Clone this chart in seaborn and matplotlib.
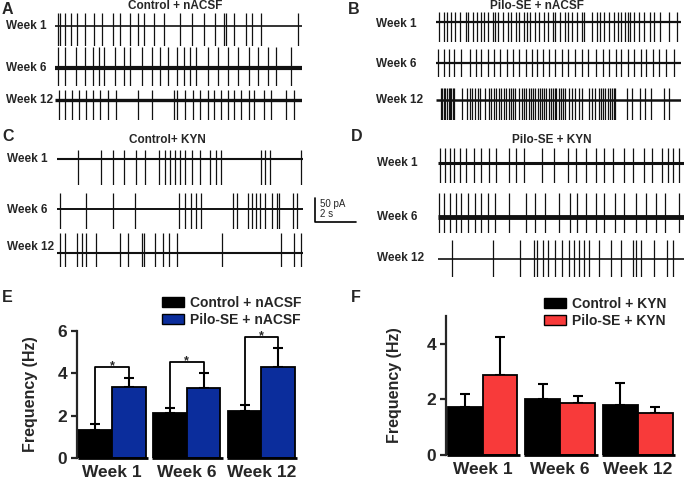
import numpy as np
import pandas as pd
import matplotlib
matplotlib.use("Agg")
import matplotlib.pyplot as plt
import seaborn as sns
from matplotlib.patches import Patch

# ---------------- data ----------------
# spike times (s) of the example recordings, 12 s sweeps
a_wk1 = [0.16, 0.24, 0.49, 0.76, 1.09, 1.46, 1.90, 2.27, 2.84, 3.16, 3.62, 4.01, 4.33, 4.82, 5.30,
         6.08, 6.65, 7.25, 7.78, 8.22, 8.32, 8.68, 9.29, 9.57, 10.01, 11.81]
a_wk6 = [0.16, 0.49, 1.02, 1.46, 1.87, 2.14, 2.38, 2.92, 3.36, 3.65, 4.22, 4.70, 5.08, 5.51, 5.92,
         6.28, 6.54, 6.86, 7.41, 7.90, 8.39, 8.87, 9.41, 9.85, 10.35, 10.75, 11.48]
a_wk12 = [0.21, 0.49, 0.81, 1.18, 1.51, 1.87, 2.19, 2.59, 2.97, 4.01, 4.70, 5.79, 5.95, 6.33, 6.70,
          7.06, 7.41, 7.74, 8.06, 8.39, 8.68, 9.04, 9.41, 9.68, 10.14, 10.50, 11.24, 11.63]
b_wk1 = [0.16, 0.38, 0.52, 0.73, 0.95, 1.19, 1.47, 1.58, 1.80, 2.01, 2.20, 2.37, 2.56, 2.78, 2.91,
         3.02, 3.27, 3.51, 3.67, 3.92, 4.08, 4.33, 4.46, 4.60, 4.85, 5.06, 5.27, 5.50, 5.71, 5.85,
         6.09, 6.32, 6.48, 6.65, 6.91, 7.13, 7.27, 7.62, 7.87, 8.05, 8.25, 8.49, 8.73, 8.90, 9.06,
         9.26, 9.39, 9.52, 9.71, 9.96, 10.17, 10.50, 10.69, 10.99, 11.43, 11.80]
b_wk6 = [0.11, 0.41, 0.65, 0.90, 1.22, 1.68, 1.96, 2.20, 2.56, 2.82, 3.15, 3.48, 3.76, 4.05, 4.41,
         4.69, 4.95, 5.22, 5.55, 5.83, 6.16, 6.48, 6.81, 7.13, 7.46, 7.84, 8.16, 8.49, 8.82, 9.06,
         9.42, 9.71, 10.04, 10.29, 10.61, 10.94, 11.27, 11.67]
b_wk12 = [0.24, 0.29, 0.38, 0.46, 0.54, 0.62, 0.67, 0.73, 0.82, 0.90, 1.27, 1.52, 1.65, 1.76, 1.93,
          2.04, 2.17, 2.38, 2.58, 2.69, 2.86, 2.96, 3.07, 3.18, 3.31, 3.44, 3.56, 3.67, 3.77, 3.89,
          4.05, 4.21, 4.33, 4.42, 4.54, 4.65, 4.75, 4.87, 4.98, 5.08, 5.19, 5.31, 5.40, 5.52, 5.63,
          5.73, 5.81, 5.89, 6.01, 6.12, 6.22, 6.33, 6.50, 6.66, 6.82, 6.99, 7.15, 7.48, 7.64, 7.80,
          7.97, 8.08, 8.18, 8.29, 8.41, 8.51, 8.62, 8.70, 8.78, 9.36, 9.60, 10.01, 10.25, 10.53,
          11.15, 11.40]
c_wk1 = [1.02, 2.16, 2.71, 3.28, 3.84, 4.30, 4.98, 5.27, 5.51, 5.76, 6.00, 6.24, 6.60, 6.97, 7.46,
         7.75, 7.99, 9.97, 10.17, 10.38, 11.92]
c_wk6 = [0.13, 1.43, 2.71, 3.81, 5.95, 6.24, 6.52, 6.78, 7.02, 8.59, 8.76, 9.32, 9.52, 9.70, 9.89,
         10.14, 10.49, 10.75, 10.83, 11.51, 11.72]
c_wk12 = [0.13, 0.37, 0.97, 1.22, 1.43, 1.90, 3.08, 3.45, 4.17, 4.22, 4.78, 5.19, 5.48, 5.84, 8.03,
          10.95, 11.56, 11.92]
d_wk1 = [0.08, 0.33, 0.57, 0.77, 1.06, 1.37, 1.74, 2.10, 2.51, 2.83, 3.48, 3.81, 4.18, 5.08, 5.68,
         6.33, 6.74, 7.23, 7.69, 8.12, 8.55, 9.07, 9.52, 10.05, 10.45, 10.94, 11.22, 11.48, 11.76]
d_wk6 = [0.03, 0.28, 0.57, 0.88, 1.12, 1.45, 1.79, 2.10, 2.43, 2.80, 3.48, 4.27, 4.75, 5.24, 5.89,
         6.42, 6.79, 7.23, 7.69, 8.12, 8.63, 9.07, 9.64, 10.13, 10.62, 11.06, 11.76]
d_wk12 = [0.68, 2.67, 4.02, 4.67, 4.84, 5.11, 5.36, 5.73, 6.06, 6.38, 6.63, 6.87, 7.12, 7.36, 7.85,
          8.42, 8.91, 9.51, 9.67, 9.92, 10.53, 11.15, 11.48]

weeks = ["Week 1", "Week 6", "Week 12"]
e_groups = ["Control + nACSF", "Pilo-SE + nACSF"]
e_ctrl = [1.34, 2.12, 2.24]
e_ctrl_sem = [0.28, 0.25, 0.25]
e_pilo = [3.35, 3.32, 4.30]
e_pilo_sem = [0.45, 0.70, 0.91]
f_groups = ["Control + KYN", "Pilo-SE + KYN"]
f_ctrl = [1.72, 2.01, 1.80]
f_ctrl_sem = [0.48, 0.53, 0.79]
f_pilo = [2.87, 1.86, 1.51]
f_pilo_sem = [1.37, 0.27, 0.21]

# ---------------- figure ----------------
sns.set_style("white")
plt.rcParams['font.family'] = ['Liberation Sans', 'DejaVu Sans']
plt.rcParams['font.weight'] = 'bold'

W, H = 688, 479
fig = plt.figure(figsize=(W / 100, H / 100), dpi=100)


def fbox(x0, y0, x1, y1):
    return [x0 / W, 1 - y1 / H, (x1 - x0) / W, (y1 - y0) / H]


def ftext(x, y, s, **kw):
    return fig.text(x / W, 1 - y / H, s, **kw)


SWEEP = 12.0
trace_axes = {}


def draw_trace(key, spikes, x0, x1, base, top, bot, lw_base):
    ax = fig.add_axes(fbox(x0, top, x1, bot))
    ax.set_xlim(0, SWEEP)
    ax.set_ylim(-(bot - base), base - top)
    ax.axis("off")
    ax.hlines(0, 0, SWEEP, color="#111111", lw=lw_base)
    ax.vlines(spikes, -(bot - base), base - top, color="#111111", lw=0.9)
    trace_axes[key] = ax
    return ax


# panel A
draw_trace("a1", a_wk1, 55, 302, 26, 13, 46, 1.2)
draw_trace("a6", a_wk6, 55, 302, 68, 47, 86, 3.0)
draw_trace("a12", a_wk12, 55, 302, 100, 90, 120, 2.4)
# panel B
draw_trace("b1", b_wk1, 436, 681, 22, 12, 42, 1.6)
draw_trace("b6", b_wk6, 436, 681, 63, 49, 77, 1.6)
draw_trace("b12", b_wk12, 436, 681, 100, 88, 120, 1.8)
# panel C
draw_trace("c1", c_wk1, 57, 303, 159, 150, 185, 1.5)
draw_trace("c6", c_wk6, 57, 303, 209, 193, 229, 1.4)
draw_trace("c12", c_wk12, 57, 303, 253, 233, 267, 1.5)
# panel D
draw_trace("d1", d_wk1, 438, 684, 163, 148, 183, 2.2)
draw_trace("d6", d_wk6, 438, 684, 217, 193, 233, 3.5)
draw_trace("d12", d_wk12, 438, 684, 259, 240, 277, 1.2)

lab = dict(fontsize=8.5, fontweight="bold", va="center", ha="left")
for y, w in zip([26, 68, 100], weeks):
    ftext(6, y, w, **lab)
for y, w in zip([24, 64, 100], weeks):
    ftext(376, y, w, **lab)
for y, w in zip([159, 210, 247], weeks):
    ftext(7, y, w, **lab)
for y, w in zip([163, 217, 258], weeks):
    ftext(377, y, w, **lab)

tt = dict(fontsize=8.5, fontweight="bold", va="center", ha="center")
ftext(175, 6, "Control + nACSF", **tt)
ftext(537, 6, "Pilo-SE + nACSF", **tt)
ftext(167, 140, "Control+ KYN", **tt)
ftext(552, 140, "Pilo-SE + KYN", **tt)

pl = dict(fontsize=11.5, fontweight="bold", va="center", ha="left")
ftext(2, 10, "A", **pl)
ftext(348, 10, "B", **pl)
ftext(2, 137, "C", **pl)
ftext(351, 137, "D", **pl)
ftext(2, 297, "E", **pl)
ftext(351, 297, "F", **pl)

# scale bar (2 s, 50 pA) drawn in the data units of trace C week 6
sb = trace_axes["c6"]
sx0 = 12.6
sb.plot([sx0, sx0, sx0 + 2.0], [11, -13, -13], color="black", lw=1.2, clip_on=False)
ftext(320, 204, "50 pA", fontsize=7, fontweight="normal", va="center", ha="left")
ftext(320, 214, "2 s", fontsize=7, fontweight="normal", va="center", ha="left")


# ---------------- bar charts ----------------
def bar_panel(box, groups, ctrl, ctrl_sem, pilo, pilo_sem, color2, ylim, yticks, legend_xy, sig):
    ax = fig.add_axes(fbox(*box))
    df = pd.DataFrame({
        "week": weeks * 2,
        "group": [groups[0]] * 3 + [groups[1]] * 3,
        "freq": ctrl + pilo,
    })
    palette = ["#000000", color2]
    sns.barplot(data=df, x="week", y="freq", hue="group", order=weeks, hue_order=groups,
                palette=palette, width=0.9, errorbar=None, edgecolor="black", linewidth=1.3,
                saturation=1, legend=False, ax=ax, zorder=2)
    tops = []
    for cont, sems in zip(ax.containers[:2], [ctrl_sem, pilo_sem]):
        xs = [p.get_x() + p.get_width() / 2 for p in cont.patches]
        ys = [p.get_height() for p in cont.patches]
        ax.errorbar(xs, ys, yerr=[np.zeros(3), sems], fmt="none", ecolor="black",
                    elinewidth=1.5, capsize=3.8, capthick=1.5, zorder=1)
        tops.append((xs, [y + s for y, s in zip(ys, sems)]))
    if sig:
        for i in range(3):
            xl, yl = tops[0][0][i], tops[0][1][i]
            xr, yr = tops[1][0][i], tops[1][1][i]
            yb = max(yl, yr) + 0.5
            ax.plot([xl, xl, xr, xr], [yl, yb, yb, yr], color="black", lw=1.3, zorder=3)
            ax.text((xl + xr) / 2, yb - 0.1, "*", ha="center", va="baseline", fontsize=9,
                    fontweight="bold")
    ax.set_ylim(*ylim)
    ax.set_xlim(-0.47, 2.49)
    ax.set_yticks(yticks)
    ax.set_yticklabels([str(t) for t in yticks])
    sns.despine(ax=ax, bottom=True)
    ax.spines["left"].set_linewidth(1.6)
    for i in range(3):
        ax.plot([i - 0.46, i + 0.48], [0, 0], color="black", lw=2.0, clip_on=False,
                solid_capstyle="butt", zorder=4)
    ax.tick_params(axis="y", left=True, length=4.5, width=1.6, pad=2.5, labelsize=12.5)
    ax.tick_params(axis="x", length=0, pad=5, labelsize=12.5)
    for t in ax.get_xticklabels() + ax.get_yticklabels():
        t.set_fontweight("bold")
    ax.set_xlabel("")
    ax.set_ylabel("Frequency (Hz)", fontsize=11.5, fontweight="bold")
    handles = [Patch(facecolor=c, edgecolor="black", lw=1.0) for c in palette]
    ax.legend(handles, groups, loc="upper left",
              bbox_to_anchor=(legend_xy[0] / W, 1 - legend_xy[1] / H),
              bbox_transform=fig.transFigure, frameon=False,
              handlelength=1.55, handleheight=0.8, handletextpad=0.5, labelspacing=0.2,
              borderpad=0, borderaxespad=0, prop={"weight": "bold", "size": 10})
    return ax


axE = bar_panel((77, 331, 298, 458), e_groups, e_ctrl, e_ctrl_sem, e_pilo, e_pilo_sem,
                "#0b2d9c", (0, 6), [0, 2, 4, 6], (162, 296), True)
axE.yaxis.set_label_coords(-0.175, 0.5)
axF = bar_panel((446, 316, 676, 455), f_groups, f_ctrl, f_ctrl_sem, f_pilo, f_pilo_sem,
                "#f83a3a", (0, 5), [0, 2, 4], (544, 297), False)
axF.yaxis.set_label_coords(-0.19, 0.5)

fig.savefig("out.png", dpi=100)
